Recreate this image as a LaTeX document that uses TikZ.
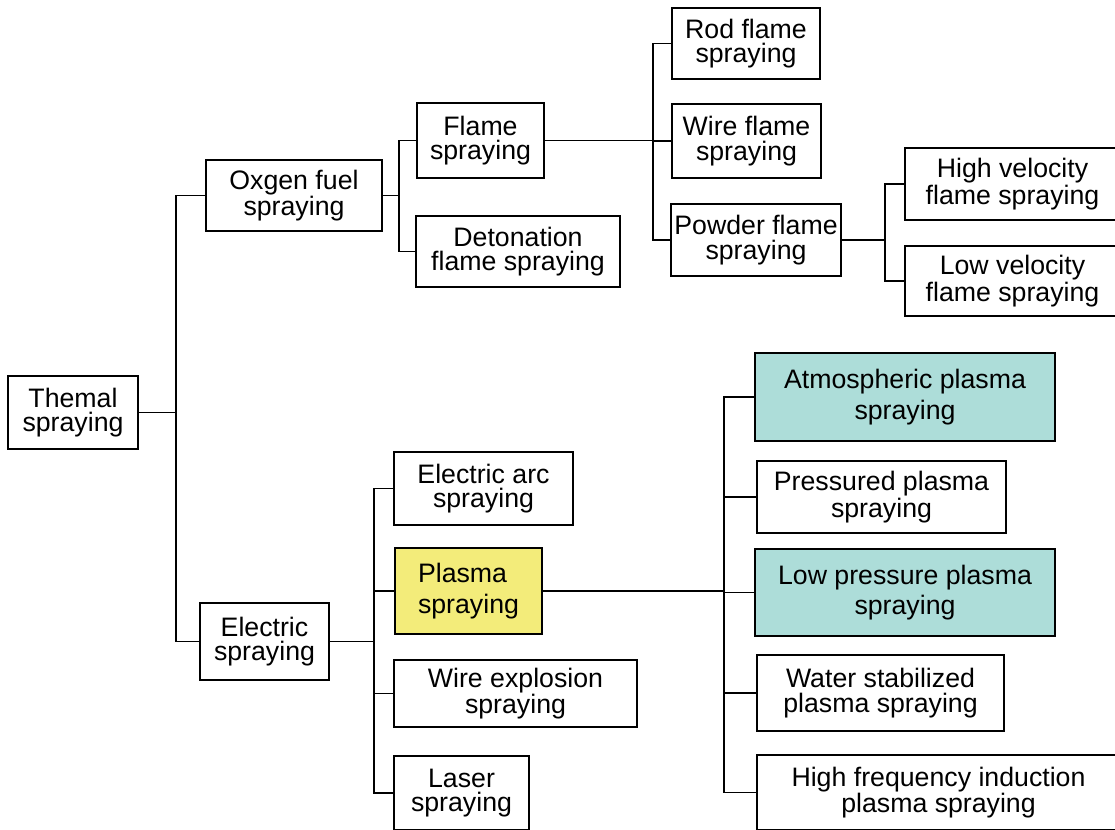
\documentclass[tikz,border=0pt]{standalone}
\usepackage{fontspec}
\setmainfont{Liberation Sans}
\usepackage[]{color}
\definecolor{plasmayellow}{HTML}{F3EC7A}
\definecolor{plasmateal}{HTML}{ADDDD9}
\newcommand{\sprayfont}{\fontsize{15.2}{14}\selectfont}
\newcommand{\hotfont}{\fontsize{15.2}{17.5}\selectfont}

\begin{document}
\begin{tikzpicture}[x=0.02cm, y=-0.02cm]
\tikzset{every node/.style={font=\sprayfont}}
\tikzset{sbox/.style 2 args={draw, line width=1pt, align=center, inner sep=0pt,
        minimum width=#1*0.02cm, minimum height=#2*0.02cm}}
\tikzset{hot/.style={line width=1.5pt, fill=#1, font=\hotfont}}
\tikzset{wire/.style={line width=1pt}}
        \clip (0, 0) rectangle (1115, 829);

        \node[sbox={130}{73}] (therm) at (73, 412.5) {Themal\\spraying};
        \node[sbox={176}{71}] (oxy) at (294, 195.5) {Oxgen fuel\\spraying};
        \node[sbox={129}{77}] (elec) at (264.5, 641.5) {Electric\\spraying};

        \node[sbox={127}{75}] (flame) at (480.5, 140.5) {Flame\\spraying};
        \node[sbox={204}{71}] (deto) at (518, 251.5) {Detonation\\flame spraying};
        \node[sbox={148}{71}] (rod) at (746, 43.5) {Rod flame\\spraying};
        \node[sbox={149}{74}] (wflame) at (746.5, 141) {Wire flame\\spraying};
        \node[sbox={170}{72}] (powder) at (756, 240) {Powder flame\\spraying};
        \node[sbox={215}{72}] (highv) at (1012.5, 184) {High velocity\\flame spraying};
        \node[sbox={215}{70}] (lowv) at (1012.5, 281) {Low velocity\\flame spraying};

        \node[sbox={179}{73}] (arc) at (483.5, 488.5) {Electric arc\\spraying};
        \node[sbox={147}{86}, hot=plasmayellow, align=left] (plasma) at (468.5, 591) {Plasma\\spraying};
        \node[sbox={243}{67}] (wexp) at (515.5, 693.5) {Wire explosion\\spraying};
        \node[sbox={135}{74}] (laser) at (461.5, 793) {Laser\\spraying};

        \node[sbox={300}{88}, hot=plasmateal] (atm) at (905, 397) {Atmospheric plasma\\spraying};
        \node[sbox={249}{72}] (press) at (881.5, 497) {Pressured plasma\\spraying};
        \node[sbox={300}{87}, hot=plasmateal] (lowp) at (905, 592.5) {Low pressure plasma\\spraying};
        \node[sbox={247}{76}] (water) at (880.5, 693) {Water stabilized\\plasma spraying};
        \node[sbox={363}{75}] (hfreq) at (938.5, 792.5) {High frequency induction\\plasma spraying};

        \draw[wire] (therm.east) -- ++(37, 0) coordinate (t1);
        \draw[wire] (oxy.west) -| (t1) |- (elec.west);

        \draw[wire] (oxy.east) -- ++(16, 0) coordinate (o1);
        \draw[wire] (flame.west) -| (o1) |- (deto.west);

        \draw[wire] (flame.east) -- ++(108, 0) coordinate (f1);
        \draw[wire] (rod.west) -| (f1) |- (powder.west);
        \draw[wire] (f1 |- wflame.west) -- (wflame.west);

        \draw[wire] (powder.east) -- ++(43, 0) coordinate (p1);
        \draw[wire] (highv.west) -| (p1) |- (lowv.west);

        \draw[wire] (elec.east) -- ++(44, 0) coordinate (e1);
        \draw[wire] (arc.west) -| (e1) |- (laser.west);
        \draw[wire] (e1 |- plasma.west) -- (plasma.west);
        \draw[wire] (e1 |- wexp.west) -- (wexp.west);

        \draw[wire] (plasma.east) -- ++(181, 0) coordinate (s1);
        \draw[wire] (atm.west) -| (s1) |- (hfreq.west);
        \draw[wire] (s1 |- press.west) -- (press.west);
        \draw[wire] (s1 |- lowp.west) -- (lowp.west);
        \draw[wire] (s1 |- water.west) -- (water.west);
\end{tikzpicture}
\end{document}
